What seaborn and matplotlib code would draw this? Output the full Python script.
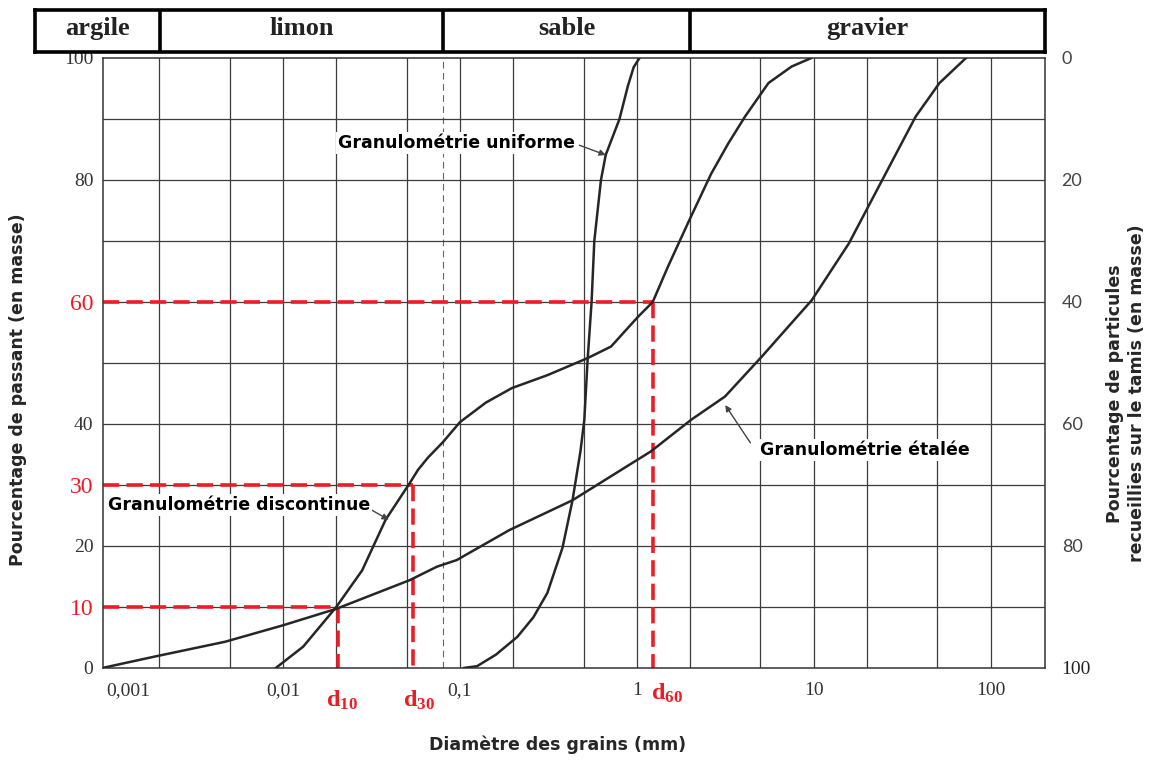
import numpy as np
import pandas as pd
import seaborn as sns
import matplotlib
matplotlib.use("Agg")
from matplotlib import pyplot as plt
from matplotlib.ticker import FixedLocator, NullFormatter, NullLocator

# ============================================================
# DATA
# ============================================================
uniforme_d = [0.105, 0.125, 0.16, 0.211, 0.26, 0.312, 0.38, 0.433, 0.48, 0.505, 0.527,
              0.555, 0.575, 0.627, 0.667, 0.798, 0.89, 0.96, 1.036]
uniforme_p = [0, 0.3, 2.2, 5.1, 8.3, 12.3, 19.7, 27.5, 35.5, 40.7, 50.5,
              60, 70, 80, 84.1, 90, 95.4, 98.5, 100]

discontinue_d = [0.0091, 0.013, 0.02, 0.028, 0.038, 0.052, 0.058, 0.066, 0.08, 0.1, 0.14,
                 0.197, 0.312, 0.527, 0.715, 1.01, 1.23, 1.5, 1.95, 2.63, 3.29, 4.09,
                 5.55, 7.5, 9.7]
discontinue_p = [0, 3.5, 10, 16, 24.3, 30.3, 32.5, 34.5, 37, 40.3, 43.5,
                 45.9, 48, 50.8, 52.7, 57.5, 60, 65.8, 73, 81, 86, 90.4,
                 95.9, 98.6, 100]

etalee_d = [0.00095, 0.0019, 0.0047, 0.01, 0.02, 0.052, 0.074, 0.096, 0.19, 0.433,
            0.85, 1.2, 2.03, 3.15, 5.07, 9.75, 15.8, 24.4, 37.7, 51.4, 72.6]
etalee_p = [0, 1.9, 4.3, 7, 9.7, 14.4, 16.6, 17.7, 22.6, 27.5,
            32.8, 35.5, 40.7, 44.5, 51, 60.3, 69.6, 80, 90.4, 95.9, 100]

# diametres caracteristiques
d_values = [0.0205, 0.054, 1.23]
d_percent = [10, 30, 60]
d_names = ["10", "30", "60"]

# classes granulometriques (bandeau du haut)
classes = ["argile", "limon", "sable", "gravier"]
class_bounds = [0.000395, 0.002, 0.08, 2, 203]

# grille
grid_x = [0.002, 0.005, 0.01, 0.02, 0.05, 0.1, 0.2, 0.5, 1, 2, 5, 10, 20, 50, 100]
grid_x_dashed = [0.08]
grid_y = [10, 20, 30, 40, 50, 60, 70, 80, 90]

x_ticks = [0.001, 0.01, 0.1, 1, 10, 100]
x_ticklabels = ["0,001", "0,01", "0,1", "1", "10", "100"]
y_ticks = [0, 10, 20, 30, 40, 60, 80, 100]
y2_ticks = [0, 20, 40, 60, 80, 100]

df = pd.concat([
    pd.DataFrame({"d": uniforme_d, "p": uniforme_p, "courbe": "uniforme"}),
    pd.DataFrame({"d": discontinue_d, "p": discontinue_p, "courbe": "discontinue"}),
    pd.DataFrame({"d": etalee_d, "p": etalee_p, "courbe": "etalee"}),
], ignore_index=True)

# ============================================================
# FIGURE
# ============================================================
sns.set_style("white")
plt.rcParams["font.family"] = ["DejaVu Sans"]
SERIF = ["Liberation Serif", "DejaVu Serif"]
RED = "#ee1c25"
GRID = "#3c3c3c"

fig = plt.figure(figsize=(11.53, 7.6), dpi=100)
ax = fig.add_axes([103 / 1153, 92 / 760, 942 / 1153, 610 / 760])
ax.set_xscale("log")
ax.set_xlim(0.00096, 203)
ax.set_ylim(0, 100)

for gx in grid_x:
    ax.axvline(gx, color=GRID, lw=0.9, zorder=1)
for gx in grid_x_dashed:
    ax.axvline(gx, color="#666666", lw=0.8, ls=(0, (6, 4)), zorder=1)
for gy in grid_y:
    ax.axhline(gy, color=GRID, lw=0.9, zorder=1)

# pointilles rouges d10, d30, d60
for dv, pv in zip(d_values, d_percent):
    ax.plot([0.00096, dv], [pv, pv], color=RED, lw=2.6, ls=(0, (4.5, 2)), zorder=2)
    ax.plot([dv, dv], [pv, 0], color=RED, lw=2.6, ls=(0, (4.5, 2)), zorder=2)

sns.lineplot(data=df, x="d", y="p", units="courbe", estimator=None, sort=False,
             color="#262626", lw=1.8, ax=ax, legend=False, zorder=3)

for sp in ax.spines.values():
    sp.set_color("#333333")
    sp.set_linewidth(1.1)

# axe x
ax.set_xticks(x_ticks)
ax.set_xticklabels(x_ticklabels, family=SERIF, fontsize=14, color="#333333")
ax.get_xticklabels()[0].set_ha("left")
ax.xaxis.set_minor_locator(FixedLocator(
    [m * 10.0 ** k for k in range(-3, 3) for m in (3, 4, 6, 7, 8, 9) if m * 10.0 ** k < 200]))
ax.xaxis.set_minor_formatter(NullFormatter())
ax.tick_params(axis="x", which="major", length=0, pad=10)
ax.tick_params(axis="x", which="minor", direction="in", length=10, width=0.8, color="#555555")

# etiquettes d10, d30, d60
d_label_x = [0.0216, 0.059, 1.2]
d_label_ha = ["center", "center", "left"]
d_label_y = [-0.053, -0.053, -0.042]
for lx, ha, ly, nm in zip(d_label_x, d_label_ha, d_label_y, d_names):
    ax.text(lx, ly, r"$\mathregular{d_{%s}}$" % nm, transform=ax.get_xaxis_transform(),
            ha=ha, va="center", color=RED, family=SERIF, fontsize=17.5, fontweight="bold")

# axe y gauche
ax.set_yticks(y_ticks)
ax.set_yticklabels([str(v) for v in y_ticks], family=SERIF, fontsize=14, color="#333333")
for lab in ax.get_yticklabels():
    if int(lab.get_text()) in d_percent:
        lab.set_color(RED)
        lab.set_fontsize(17)
ax.tick_params(axis="y", length=0, pad=7)
ax.set_ylabel("Pourcentage de passant (en masse)", fontsize=12.5, fontweight="bold",
              va="center")
ax.yaxis.set_label_coords(-0.090, 0.456)
ax.set_xlabel("Diamètre des grains (mm)", fontsize=12.5, fontweight="bold", va="center")
ax.xaxis.set_label_coords(0.483, -0.126)

# axe y droit (refus)
ax2 = ax.twinx()
ax2.set_ylim(100, 0)
ax2.set_yticks(y2_ticks)
ax2.set_yticklabels([str(v) for v in y2_ticks], family=["Lato", "DejaVu Sans"],
                    fontsize=13, color="#444444")
ax2.get_yticklabels()[-1].set_family(SERIF)
ax2.get_yticklabels()[-1].set_fontsize(14)
ax2.get_yticklabels()[-1].set_color("#222222")
ax2.tick_params(axis="y", length=0, pad=12)
for sp in ax2.spines.values():
    sp.set_visible(False)
ax2.set_ylabel("Pourcentage de particules\nrecueillies sur le tamis (en masse)",
               fontsize=12.5, fontweight="bold", rotation=90, linespacing=1.25,
               va="center", ha="center")
ax2.yaxis.set_label_coords(1.086, 0.45)

# annotations
arrow_kw = dict(arrowstyle="-|>", color="#444444", lw=1.0, mutation_scale=9,
                shrinkA=0, shrinkB=0)
txt_kw = dict(fontsize=12.5, fontweight="bold", color="black", va="center", zorder=5,
              bbox=dict(facecolor="white", edgecolor="none", pad=1.5))
ax.annotate("", xy=(0.667, 84.1), xytext=(0.474, 85.7), arrowprops=arrow_kw, zorder=5)
ax.text(0.45, 86.1, "Granulométrie uniforme", ha="right", **txt_kw)
ax.annotate("", xy=(0.0395, 24.3), xytext=(0.0304, 26.2), arrowprops=arrow_kw, zorder=5)
ax.text(0.00102, 26.7, "Granulométrie discontinue", ha="left", **txt_kw)
ax.annotate("", xy=(3.16, 43.1), xytext=(4.39, 36.9), arrowprops=arrow_kw, zorder=5)
ax.text(5.0, 35.7, "Granulométrie étalée", ha="left", **txt_kw)

# bandeau des classes
hax = fig.add_axes([35 / 1153, (760 - 52) / 760, 1010 / 1153, 42 / 760])
hax.set_xscale("log")
hax.set_xlim(class_bounds[0], class_bounds[-1])
hax.set_ylim(0, 1)
hax.xaxis.set_major_locator(NullLocator())
hax.xaxis.set_minor_locator(NullLocator())
hax.set_yticks([])
for sp in hax.spines.values():
    sp.set_color("black")
    sp.set_linewidth(2.6)
for b in class_bounds[1:-1]:
    hax.axvline(b, color="black", lw=2.6)
for name, lo, hi in zip(classes, class_bounds[:-1], class_bounds[1:]):
    hax.text(np.sqrt(lo * hi), 0.55, name, ha="center", va="center",
             family=SERIF, fontsize=19, fontweight="bold", color="#222222")

plt.savefig("out.png", dpi=100, facecolor="white")
